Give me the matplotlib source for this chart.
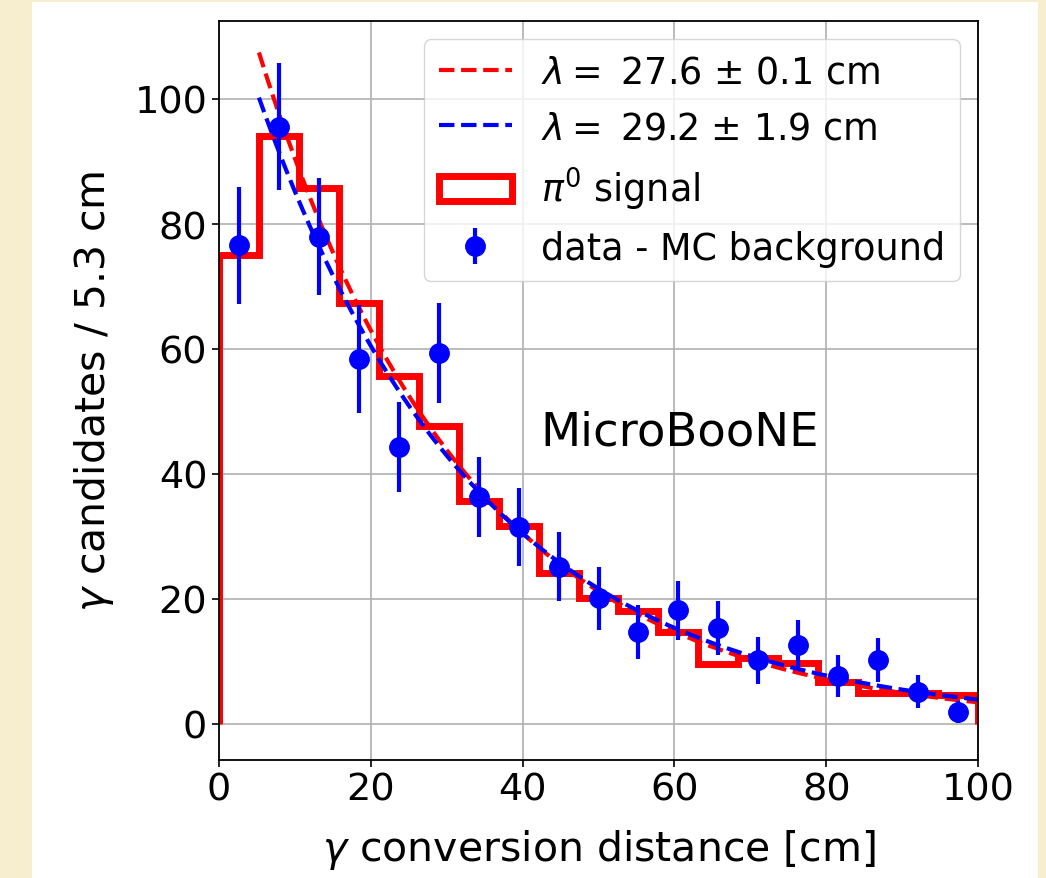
import numpy as np
import matplotlib
matplotlib.use("Agg")
import matplotlib.pyplot as plt
from matplotlib.patches import Rectangle

# ---- data ----
bin_edges = np.linspace(0, 100, 20)          # 19 bins of 5.26 cm
signal_counts = [75.0, 94.1, 85.8, 67.3, 55.7, 47.6, 35.7, 31.6, 24.1, 20.1,
                 18.1, 14.8, 9.6, 10.5, 9.8, 6.8, 4.9, 5.0, 4.7]
data_x = [2.63, 7.89, 13.16, 18.42, 23.68, 28.95, 34.21, 39.47, 44.74, 50.0,
          55.26, 60.53, 65.79, 71.05, 76.32, 81.58, 86.84, 92.11, 97.37]
data_y = [76.6, 95.6, 78.0, 58.4, 44.4, 59.4, 36.4, 31.5, 25.2, 20.1,
          14.7, 18.2, 15.4, 10.2, 12.7, 7.7, 10.2, 5.2, 1.9]
data_err = [9.4, 10.2, 9.3, 8.6, 7.2, 8.0, 6.4, 6.2, 5.5, 5.1,
            4.3, 4.7, 4.3, 3.8, 4.0, 3.4, 3.5, 2.7, 1.8]
# exponential fits (amplitude at x=0, decay length)
fit_mc_amp, fit_mc_lambda = 130.0, 27.6
fit_data_amp, fit_data_lambda = 120.0, 29.2
fit_range = (5.26, 100.0)
label_mc = r'$\lambda =$ 27.6 $\pm$ 0.1 cm'
label_data = r'$\lambda =$ 29.2 $\pm$ 1.9 cm'

W, H = 1046, 879
fig = plt.figure(figsize=(W / 100, H / 100), dpi=100)
fig.patch.set_facecolor('#F7EECF')
fig.patches.append(Rectangle((32 / W, 0), (1038 - 32) / W, (879 - 3) / H,
                             transform=fig.transFigure, facecolor='white',
                             edgecolor='none', zorder=-5))

ax = fig.add_axes([219 / W, (879 - 761) / H, (978 - 219) / W, (761 - 22) / H])
ax.set_zorder(2)
ax.set_axisbelow(True)
ax.grid(True, color='#b0b0b0', lw=1.2)

centers = 0.5 * (bin_edges[:-1] + bin_edges[1:])
_, _, hpatch = ax.hist(centers, bins=bin_edges, weights=signal_counts,
                       histtype='step', color='red', lw=5, label=r'$\pi^0$ signal')

xf = np.linspace(fit_range[0], fit_range[1], 300)
l1, = ax.plot(xf, fit_mc_amp * np.exp(-xf / fit_mc_lambda), '--', color='red',
              lw=3, label=label_mc)
l2, = ax.plot(xf, fit_data_amp * np.exp(-xf / fit_data_lambda), '--', color='blue',
              lw=3, label=label_data)
eb = ax.errorbar(data_x, data_y, yerr=data_err, fmt='o', color='blue', ms=14,
                 elinewidth=3, capsize=0, label='data - MC background')

ax.set_xlim(0, 100)
ax.set_ylim(-5.76, 112.48)
ax.set_xticks([0, 20, 40, 60, 80, 100])
ax.set_yticks([0, 20, 40, 60, 80, 100])
ax.tick_params(labelsize=27.5, length=5, width=1.2)
for s in ax.spines.values():
    s.set_linewidth(1.3)

ax.set_xlabel(r'$\gamma$ conversion distance [cm]', fontsize=29.5, labelpad=14)
ax.set_ylabel(r'$\gamma$ candidates / 5.3 cm', fontsize=29.5, labelpad=13)
ax.text(42.3, 46.8, 'MicroBooNE', fontsize=33.5, va='center', ha='left')

ax.legend(handles=[l1, l2, hpatch[0], eb],
          labels=[label_mc, label_data, r'$\pi^0$ signal', 'data - MC background'],
          loc='upper right', fontsize=26.3, framealpha=0.8, borderaxespad=0.5)

fig.savefig('out.png', dpi=100, facecolor=fig.get_facecolor())
